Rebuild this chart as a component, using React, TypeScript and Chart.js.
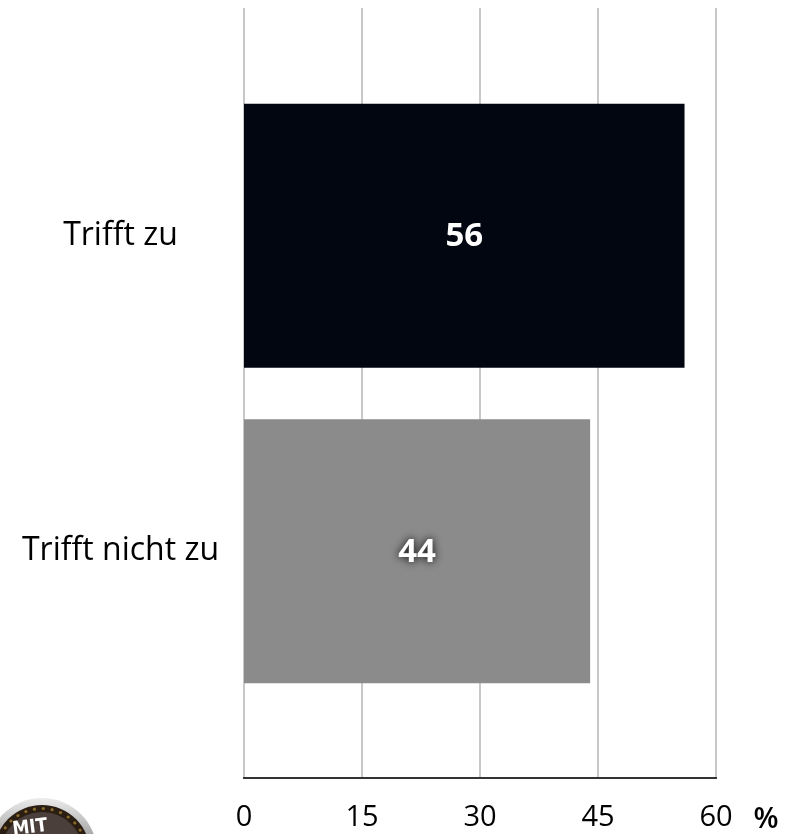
import React, { useEffect, useRef } from "react";
import { Chart, registerables } from "chart.js";

Chart.register(...registerables);

const categories = ["Trifft zu", "Trifft nicht zu"];
const values = [56, 44];
const barColors = ["#020611", "#8b8b8b"];
const xTicks = [0, 15, 30, 45, 60];
const unitLabel = "%";
const logoText = "MIT";

const FONT = "'Open Sans', 'Noto Sans', sans-serif";

const extrasPlugin = {
  id: "extras",
  beforeDatasetsDraw(chart: any) {
    const { ctx, scales } = chart;
    const x = scales.x;
    const top = 8;
    const bottom = 778;
    ctx.save();
    ctx.strokeStyle = "#c8c8c8";
    ctx.lineWidth = 2;
    xTicks.forEach((v) => {
      const px = Math.round(x.getPixelForValue(v));
      ctx.beginPath();
      ctx.moveTo(px, top);
      ctx.lineTo(px, bottom);
      ctx.stroke();
    });
    ctx.strokeStyle = "#333333";
    ctx.lineWidth = 2;
    ctx.beginPath();
    ctx.moveTo(x.getPixelForValue(0) - 1, bottom);
    ctx.lineTo(x.getPixelForValue(60) + 1, bottom);
    ctx.stroke();
    ctx.restore();
  },
  afterDatasetsDraw(chart: any) {
    const { ctx } = chart;
    const meta = chart.getDatasetMeta(0);
    ctx.save();
    ctx.font = `bold 33px ${FONT}`;
    ctx.textAlign = "center";
    ctx.textBaseline = "middle";
    meta.data.forEach((bar: any, i: number) => {
      const cx = (bar.x + bar.base) / 2;
      const cy = bar.y + 1;
      ctx.save();
      if (i === 1) {
        ctx.shadowColor = "rgba(0,0,0,0.95)";
        ctx.shadowBlur = 9;
        ctx.shadowOffsetX = 0;
        ctx.shadowOffsetY = 0;
      }
      ctx.fillStyle = "#ffffff";
      ctx.fillText(String(values[i]), cx, cy);
      ctx.restore();
    });
    ctx.fillStyle = "#000000";
    ctx.font = `600 29px ${FONT}`;
    ctx.fillText(unitLabel, 766, 820);
    ctx.restore();
  },
  afterDraw(chart: any) {
    const { ctx } = chart;
    const cx = 42;
    const cy = 853;
    ctx.save();
    const g = ctx.createLinearGradient(0, 795, 0, 834);
    g.addColorStop(0, "#f2f2f2");
    g.addColorStop(1, "#a9a9a9");
    ctx.fillStyle = g;
    ctx.beginPath();
    ctx.arc(cx, cy, 55, 0, Math.PI * 2);
    ctx.fill();
    ctx.fillStyle = "#2a1e12";
    ctx.beginPath();
    ctx.arc(cx, cy, 48, 0, Math.PI * 2);
    ctx.fill();
    ctx.fillStyle = "#8a6a2a";
    for (let a = -Math.PI; a <= 0; a += 0.2) {
      ctx.beginPath();
      ctx.arc(cx + Math.cos(a) * 44.5, cy + Math.sin(a) * 44.5, 1.6, 0, Math.PI * 2);
      ctx.fill();
    }
    ctx.fillStyle = "#4a3f3b";
    ctx.beginPath();
    ctx.arc(cx, cy, 41, 0, Math.PI * 2);
    ctx.fill();
    ctx.translate(30, 828);
    ctx.rotate(-0.12);
    ctx.fillStyle = "#ffffff";
    ctx.font = `bold 19px 'DejaVu Sans Condensed', ${FONT}`;
    ctx.textAlign = "center";
    ctx.textBaseline = "middle";
    ctx.fillText(logoText, 0, 0);
    ctx.restore();
  },
};

export default function App() {
  const ref = useRef<HTMLCanvasElement | null>(null);
  useEffect(() => {
    if (!ref.current) return;
    const chart = new Chart(ref.current, {
      type: "bar",
      data: {
        labels: categories,
        datasets: [
          {
            data: values,
            backgroundColor: barColors,
            borderWidth: 0,
            barPercentage: 0.837,
            categoryPercentage: 1,
          },
        ],
      },
      options: {
        indexAxis: "y",
        responsive: false,
        animation: false,
        layout: { padding: { top: 78, right: 71, left: 0, bottom: 0 } },
        plugins: { legend: { display: false }, tooltip: { enabled: false } },
        scales: {
          x: {
            min: 0,
            max: 60,
            afterBuildTicks: (scale: any) => {
              scale.ticks = xTicks.map((v) => ({ value: v }));
            },
            afterFit: (scale: any) => {
              scale.height = 834 - 709;
              scale.paddingLeft = 0;
              scale.paddingRight = 0;
            },
            grid: { display: false },
            border: { display: false },
            ticks: {
              padding: 83,
              color: "#000000",
              font: { family: FONT, size: 29, weight: "normal" },
              maxRotation: 0,
            },
          },
          y: {
            afterFit: (scale: any) => {
              scale.width = 244;
            },
            grid: { display: false },
            border: { display: false },
            ticks: {
              crossAlign: "center",
              padding: 17,
              color: "#000000",
              font: { family: FONT, size: 32, weight: "normal" },
            },
          },
        },
      },
      plugins: [extrasPlugin],
    } as any);
    return () => chart.destroy();
  }, []);
  return (
    <div style={{ position: "fixed", left: 0, top: 0, width: 787, height: 834, overflow: "hidden", background: "#ffffff" }}>
      <canvas ref={ref} width={787} height={834} style={{ display: "block" }} />
    </div>
  );
}
